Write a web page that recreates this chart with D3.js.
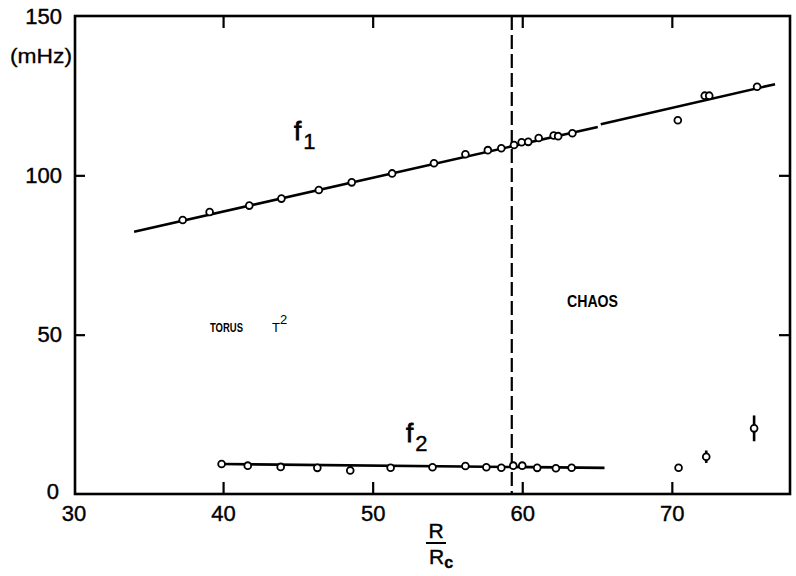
<!DOCTYPE html>
<html><head><meta charset="utf-8">
<script src="https://cdn.jsdelivr.net/npm/d3@7/dist/d3.min.js"></script>
<style>
html,body{margin:0;padding:0;background:#fff;}
text{font-family:"Liberation Sans","DejaVu Sans",sans-serif;fill:#000;}
</style></head>
<body><svg id="c" width="796" height="576"></svg>
<script>
// ---- data ----
const xTicks = [30, 40, 50, 60, 70];
const yTicks = [0, 50, 100, 150];
const f1R = [37.3, 39.1, 41.75, 43.9, 46.4, 48.6, 51.3, 54.1, 56.2, 57.7, 58.6, 59.45, 59.96, 60.4, 61.1, 62.1, 62.4, 63.35, 70.4, 72.2, 72.5, 75.7];
const f1V = [86.0, 88.5, 90.5, 92.7, 95.4, 97.8, 100.6, 103.8, 106.6, 107.9, 108.5, 109.5, 110.4, 110.5, 111.7, 112.5, 112.3, 113.2, 117.3, 125.0, 125.0, 127.8];
const f2R = [39.9, 41.65, 43.85, 46.3, 48.5, 51.2, 54.0, 56.2, 57.6, 58.6, 59.4, 60.0, 61.0, 62.25, 63.3, 70.45, 72.3, 75.5];
const f2V = [9.4, 8.9, 8.5, 8.2, 7.4, 8.25, 8.4, 8.8, 8.4, 8.25, 8.9, 8.9, 8.2, 8.1, 8.25, 8.25, 11.7, 20.6];
const f2Err = [0, 0, 0, 0, 0, 0, 0, 0, 0, 0, 0, 0, 0, 0, 0, 0, 1.95, 4.05];
const f1FitA = [[34.05, 82.3], [65.05, 115.2]];
const f1FitB = [[65.25, 116.0], [76.9, 128.6]];
const f2Fit = [[39.9, 9.4], [65.5, 8.2]];
const onset = 59.3;

const svg = d3.select("#c");
const x = d3.scaleLinear().domain([30.1, 77.9]).range([75, 790]);
const y = d3.scaleLinear().domain([0, 150]).range([494, 16]);
const SW = 2.6;

// frame
svg.append("rect").attr("x", x(30.1)).attr("y", y(150))
  .attr("width", x(77.9) - x(30.1)).attr("height", y(0) - y(150))
  .attr("fill", "none").attr("stroke", "#000").attr("stroke-width", SW);

function styleAxis(g) {
  g.select(".domain").remove();
  g.selectAll(".tick line").attr("stroke", "#000").attr("stroke-width", 2.2);
  g.selectAll(".tick text").style("font-size", "22px").attr("fill", "#000")
    .attr("stroke", "#000").attr("stroke-width", 0.4)
    .style("font-family", '"Liberation Sans","DejaVu Sans",sans-serif');
}
// bottom
svg.append("g").attr("transform", `translate(0,${y(0)})`)
  .call(d3.axisBottom(x).tickValues(xTicks).tickSize(-12).tickSizeOuter(0).tickPadding(11).tickFormat(d3.format("d")))
  .call(styleAxis)
  .call(g => g.selectAll(".tick").filter(d => d === 30).select("line").remove());
// top
svg.append("g").attr("transform", `translate(0,${y(150)})`)
  .call(d3.axisTop(x).tickValues(xTicks.slice(1)).tickSize(-12).tickSizeOuter(0).tickFormat(""))
  .call(styleAxis);
// left
svg.append("g").attr("transform", `translate(${x(30.1)},0)`)
  .call(d3.axisLeft(y).tickValues(yTicks).tickSize(-10).tickSizeOuter(0).tickPadding(13).tickFormat(d3.format("d")))
  .call(styleAxis)
  .call(g => g.selectAll(".tick").filter(d => d === 0 || d === 150).select("line").remove())
  .call(g => g.selectAll(".tick").filter(d => d === 0).select("text").attr("dy", "0.2em").attr("x", -16));
// right
svg.append("g").attr("transform", `translate(${x(77.9)},0)`)
  .call(d3.axisRight(y).tickValues([50, 100]).tickSize(-11).tickSizeOuter(0).tickFormat(""))
  .call(styleAxis);

// units
svg.append("text").attr("x", 41).attr("y", 63).attr("text-anchor", "middle")
  .attr("textLength", 62).attr("lengthAdjust", "spacingAndGlyphs")
  .attr("stroke", "#000").attr("stroke-width", 0.3)
  .style("font-size", "21px").text("(mHz)");

// onset dashed line
svg.append("line").attr("x1", x(onset)).attr("x2", x(onset)).attr("y1", y(150)).attr("y2", y(0))
  .attr("stroke", "#000").attr("stroke-width", 2.2).attr("stroke-dasharray", "14,5");

// fit lines
const line = d3.line().x(d => x(d[0])).y(d => y(d[1]));
[f1FitA, f1FitB, f2Fit].forEach(seg => {
  svg.append("path").attr("d", line(seg)).attr("fill", "none")
    .attr("stroke", "#000").attr("stroke-width", SW);
});

// error bars
svg.append("g").selectAll("line").data(f2R.map((r, i) => ({ r, v: f2V[i], e: f2Err[i] })).filter(d => d.e > 0))
  .join("line")
  .attr("x1", d => x(d.r)).attr("x2", d => x(d.r))
  .attr("y1", d => y(d.v - d.e)).attr("y2", d => y(d.v + d.e))
  .attr("stroke", "#000").attr("stroke-width", 2.6);

// points
function pts(R, V) {
  svg.append("g").selectAll("circle").data(R.map((r, i) => [r, V[i]])).join("circle")
    .attr("cx", d => x(d[0])).attr("cy", d => y(d[1])).attr("r", 3.4)
    .attr("fill", "#fff").attr("stroke", "#000").attr("stroke-width", 1.8);
}
pts(f1R, f1V);
pts(f2R, f2V);

// labels
function fLabel(px, py, sub) {
  const t = svg.append("text").attr("x", px).attr("y", py)
    .style("font-size", "26px").attr("stroke", "#000").attr("stroke-width", 0.8);
  t.append("tspan").text("f");
  t.append("tspan").attr("dy", 9).attr("dx", 2).style("font-size", "22px").attr("stroke-width", 0.4).text(sub);
}
fLabel(294, 140, "1");
fLabel(406, 442, "2");

svg.append("text").attr("x", 210).attr("y", 332).attr("textLength", 33).attr("lengthAdjust", "spacingAndGlyphs")
  .style("font-size", "13px").style("font-weight", "bold").text("TORUS");
const t2 = svg.append("text").attr("x", 272).attr("y", 332).style("font-size", "13px");
t2.append("tspan").text("T");
t2.append("tspan").attr("dy", -8).style("font-size", "13px").text("2");
svg.append("text").attr("x", 567).attr("y", 307).attr("textLength", 51).attr("lengthAdjust", "spacingAndGlyphs")
  .style("font-size", "16px").style("font-weight", "bold").text("CHAOS");

// x label R/Rc
const cx = 436;
svg.append("text").attr("x", cx).attr("y", 538).attr("text-anchor", "middle")
  .attr("stroke", "#000").attr("stroke-width", 0.4).style("font-size", "21px").text("R");
svg.append("line").attr("x1", cx - 10).attr("x2", cx + 10).attr("y1", 543).attr("y2", 543)
  .attr("stroke", "#000").attr("stroke-width", 2);
const rc = svg.append("text").attr("x", cx - 7).attr("y", 564)
  .attr("stroke", "#000").attr("stroke-width", 0.4).style("font-size", "21px");
rc.append("tspan").text("R");
rc.append("tspan").attr("dy", 4).style("font-size", "16px").style("font-weight", "bold").text("c");
</script></body></html>
